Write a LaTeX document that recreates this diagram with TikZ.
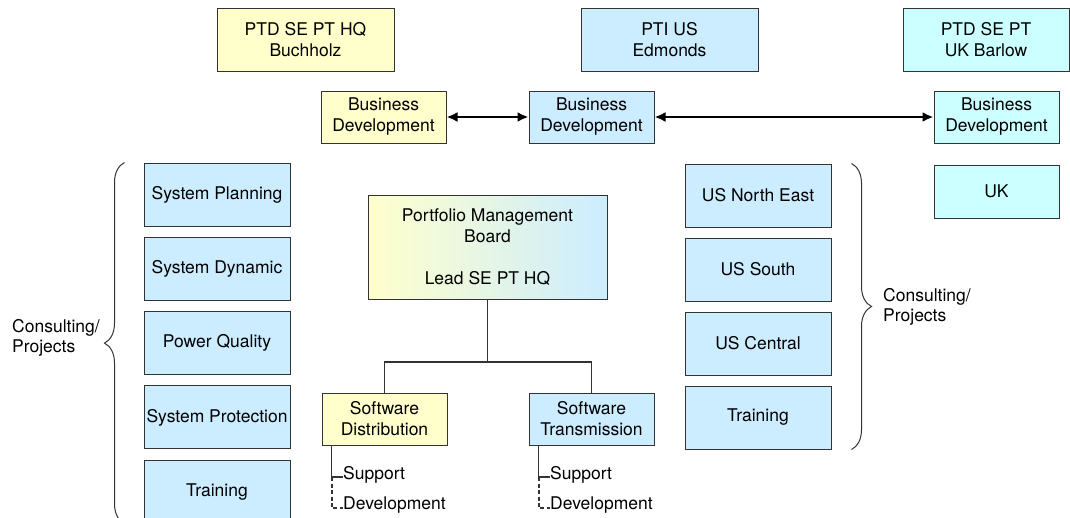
\documentclass[tikz,border=0pt]{standalone}
\usepackage{fontspec}
\setmainfont{TeX Gyre Heros}
\usetikzlibrary{positioning,arrows.meta,decorations.pathreplacing}
\definecolor{hqyellow}{HTML}{FFFFCC}
\definecolor{usblue}{HTML}{CCECFF}
\definecolor{ukcyan}{HTML}{CCFFFF}
\tikzset{
>={Latex[length=11pt,width=10pt]},
box/.style={draw=black!80, line width=1pt, align=center, inner sep=1pt,
  font=\fontsize{17.5}{21}\selectfont},
site/.style={box, minimum width=177pt, minimum height=63pt},
bizdev/.style={box, minimum width=125pt, minimum height=52pt},
unit/.style={box, minimum width=146pt, minimum height=63pt},
subitem/.style={inner sep=0pt, font=\fontsize{17.5}{21}\selectfont},
bracelabel/.style={align=left, inner sep=0pt, font=\fontsize{17.5}{20}\selectfont},
}

\begin{document}
\begin{tikzpicture}
    [x=1pt, y=-1pt,
    node distance=10.3pt,
    link/.style={draw=black!80, line width=1.3pt},
    curly/.style={draw=black!80, line width=1pt, decorate,
      decoration={brace, amplitude=20pt}}
    ]
    \useasboundingbox (0,0) rectangle (1070,517);

    % sites
    \node [site, fill=hqyellow] (hq) at (305.5,39.5) {PTD SE PT HQ\\Buchholz};
    \node [site, fill=usblue] (us) at (669.5,39.5) {PTI US\\Edmonds};
    \node [site, fill=ukcyan, minimum width=166pt] (uk) at (986,39.5) {PTD SE PT\\UK Barlow};

    % business development
    \node [bizdev, fill=hqyellow] (bda) at (383.5,117) {Business\\Development};
    \node [bizdev, fill=usblue] (bdb) at (591.5,117) {Business\\Development};
    \node [bizdev, fill=ukcyan] (bdc) at (996.5,117) {Business\\Development};
    \node [bizdev, fill=ukcyan, minimum height=53pt] (ukr) [below=21pt of bdc] {UK};

    % HQ consulting
    \node [unit, fill=usblue] (plan) at (217,194.5) {System Planning};
    \node [unit, fill=usblue] (dyn) [below=of plan] {System Dynamic};
    \node [unit, fill=usblue] (pq) [below=of dyn] {Power Quality};
    \node [unit, fill=usblue] (prot) [below=of pq] {System Protection};
    \node [unit, fill=usblue] (hqtr) [below=of prot] {Training};

    % US consulting
    \node [unit, fill=usblue] (usne) at (758,195.5) {US North East};
    \node [unit, fill=usblue] (uss) [below=10pt of usne] {US South};
    \node [unit, fill=usblue] (usc) [below=10pt of uss] {US Central};
    \node [unit, fill=usblue] (ustr) [below=10pt of usc] {Training};

    % portfolio
    \node [box, left color=hqyellow, right color=usblue, minimum width=239pt,
      minimum height=104pt] (pmb) at (487.5,247)
      {Portfolio Management\\Board\\[21pt]Lead SE PT HQ};
    \node [bizdev, fill=hqyellow] (sd) at (384.5,419) {Software\\Distribution};
    \node [bizdev, fill=usblue] (st) at (591.5,419) {Software\\Transmission};

    \node [subitem, anchor=base west] (sdsup) at (343,479) {Support};
    \node [subitem, anchor=base west] (sddev) at (343,509) {Development};
    \node [subitem, anchor=base west] (stsup) at (550,479) {Support};
    \node [subitem, anchor=base west] (stdev) at (550,509) {Development};

    \node [bracelabel, anchor=west] (lcp) at (12,338) {Consulting/\\Projects};
    \node [bracelabel, anchor=west] (rcp) at (883,307) {Consulting/\\Projects};

    \draw [<->, line width=2.8pt] (bda) -- (bdb);
    \draw [<->, line width=2.8pt] (bdb) -- (bdc);

    \coordinate (bus) at (pmb.south |- 0,362);
    \draw [link] (pmb.south) -- (bus);
    \draw [link] (sd.north) |- (bus) -| (st.north);

    \coordinate (sdstem) at ([xshift=10pt]sd.south west);
    \coordinate (sdtick) at ([yshift=2pt]sdsup.base west);
    \draw [link] (sdstem) |- (sdtick);
    \draw [link, line width=2pt, dash pattern=on 4pt off 2.5pt] (sdstem |- sdtick) |- ([yshift=1pt]sddev.base west);

    \coordinate (ststem) at ([xshift=10pt]st.south west);
    \coordinate (sttick) at ([yshift=2pt]stsup.base west);
    \draw [link] (ststem) |- (sttick);
    \draw [link, line width=2pt, dash pattern=on 4pt off 2.5pt] (ststem |- sttick) |- ([yshift=1pt]stdev.base west);

    \draw [curly] ([xshift=-19pt]hqtr.south west) -- ([xshift=-19pt]plan.north west);
    \draw [curly] ([xshift=20pt]usne.north east) -- ([xshift=20pt]ustr.south east);

\end{tikzpicture}
\end{document}
